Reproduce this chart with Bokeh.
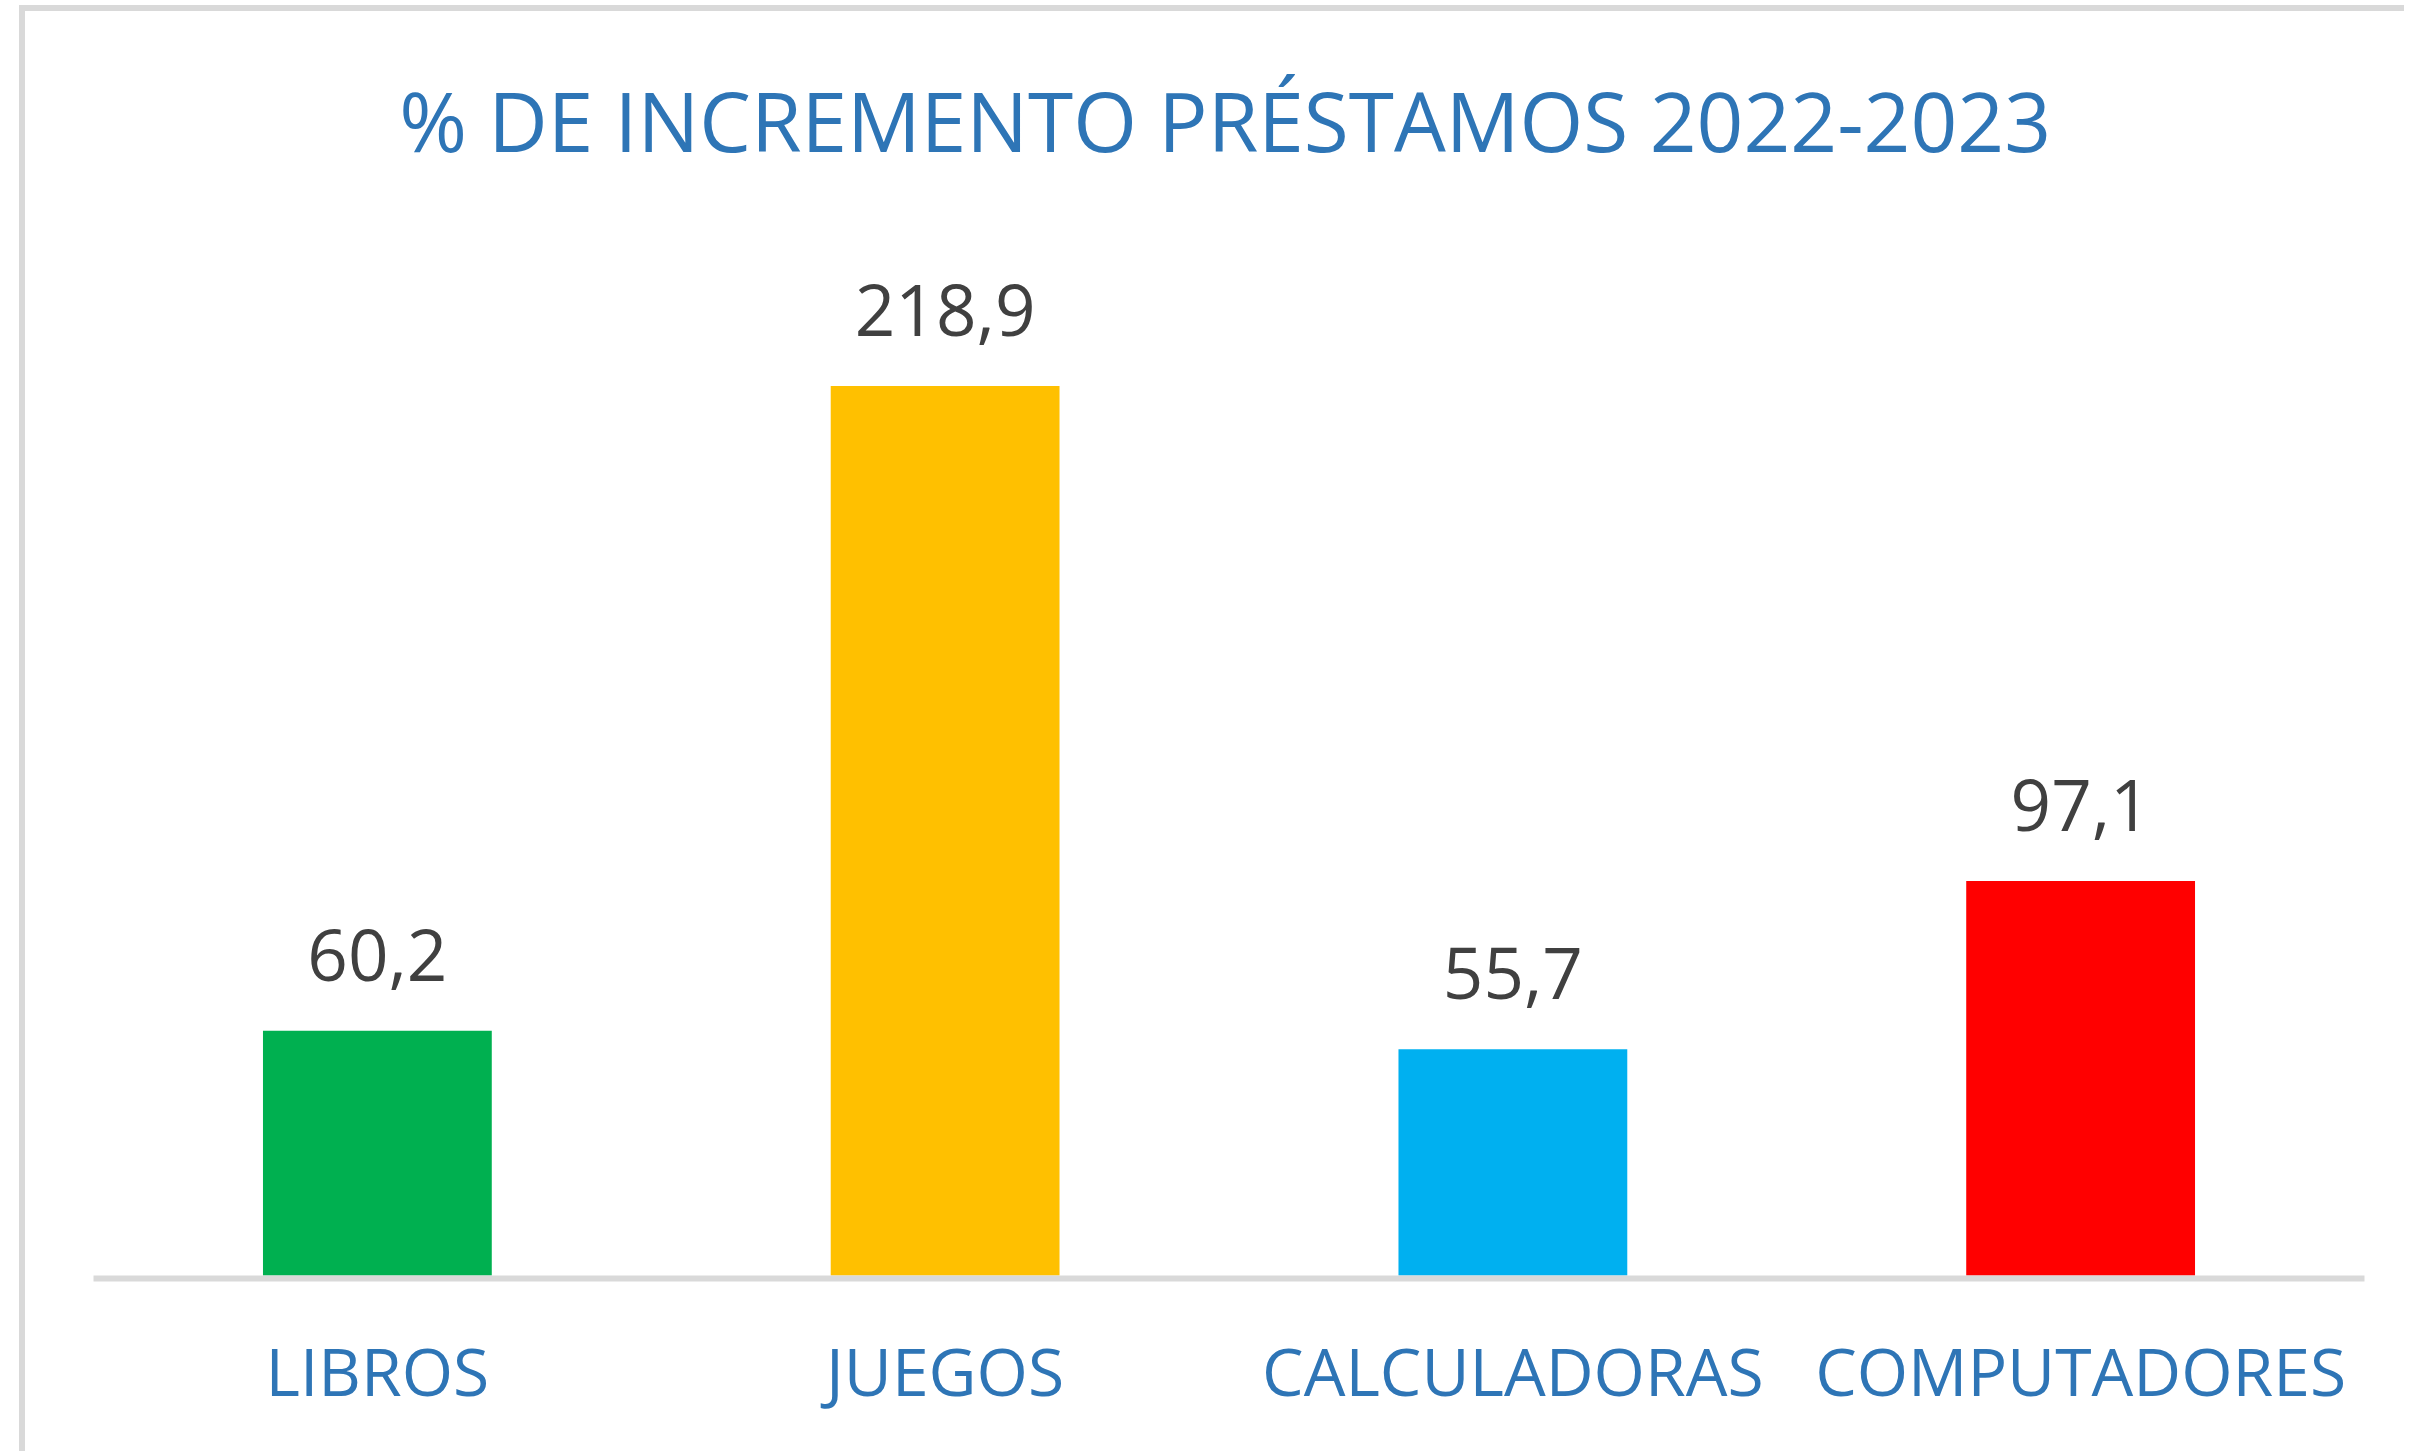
from bokeh.plotting import figure
from bokeh.models import ColumnDataSource, FactorRange, Range1d, LabelSet
from bokeh.core.properties import value
from bokeh.embed import file_html
from bokeh.resources import INLINE

categories = ["LIBROS", "JUEGOS", "CALCULADORAS", "COMPUTADORES"]
values = [60.2, 218.9, 55.7, 97.1]
colors = ["#00B050", "#FFC000", "#00B0F0", "#FF0000"]
value_labels = [f"{v:.1f}".replace(".", ",") for v in values]
title_text = "% DE INCREMENTO PRÉSTAMOS 2022-2023"

FONT = "Open Sans"
BLUE = "#2E75B6"
GRAY = "#D9D9D9"

src = ColumnDataSource(dict(cat=categories, val=values, color=colors, lab=value_labels))

# frame spans from the top of the canvas down to the category axis
p = figure(width=2404, height=1451, output_backend="svg", toolbar_location=None,
           x_range=FactorRange(*categories, range_padding=0),
           y_range=Range1d(-0.74, 313.75),
           min_border_left=93, min_border_right=40, min_border_top=0, min_border_bottom=173)
p.outline_line_color = None
p.grid.visible = False
p.background_fill_color = None
p.border_fill_color = None

# chart-area border: top and left edges (right/bottom are cropped in the original)
p.styles = {
    "background-color": "white",
    "background-image": "linear-gradient(#D9D9D9, #D9D9D9), linear-gradient(#D9D9D9, #D9D9D9)",
    "background-size": "6px 100%, 100% 6px",
    "background-position": "19px 5px, 19px 5px",
    "background-repeat": "no-repeat",
}

p.vbar(x="cat", top="val", bottom=0, width=0.403, color="color", line_color=None, source=src)

labels = LabelSet(x="cat", y="val", text="lab", source=src, y_offset=50,
                  text_align="center", text_baseline="alphabetic",
                  text_font=value(FONT), text_font_size=value("71px"), text_color="#404040")
p.add_layout(labels)

# chart title, centred between the 2nd and 3rd categories
title_src = ColumnDataSource(dict(x=["JUEGOS"], y=[284.4], t=[title_text]))
p.text(x="x", y="y", text="t", source=title_src, x_offset=280,
       text_align="center", text_baseline="alphabetic",
       text_font=value(FONT), text_font_size=value("82px"), text_color=BLUE)

p.yaxis.visible = False
ax = p.xaxis[0]
ax.axis_line_color = GRAY
ax.axis_line_width = 6
ax.major_tick_line_color = None
ax.minor_tick_line_color = None
ax.major_label_text_font = FONT
ax.major_label_text_font_size = "66px"
ax.major_label_text_color = BLUE
ax.major_label_standoff = 40

open("out.html", "w").write(file_html(p, INLINE))
